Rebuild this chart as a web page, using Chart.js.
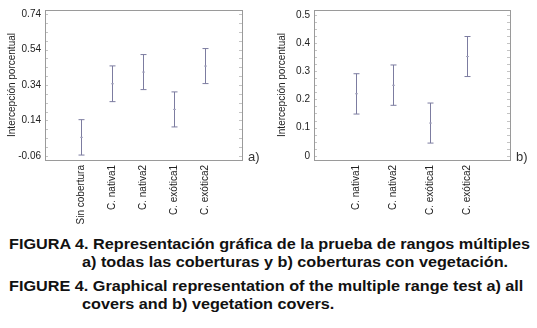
<!DOCTYPE html>
<html><head><meta charset="utf-8">
<script src="https://cdn.jsdelivr.net/npm/chart.js@4.4.0/dist/chart.umd.min.js"></script>
<style>
html,body{margin:0;padding:0;background:#fff}
body{width:537px;height:328px;overflow:hidden;position:relative;font-family:"Liberation Sans",Arial,sans-serif}
canvas{position:absolute;top:0}
#c1{left:0}
#c2{left:270px}
.cap{position:absolute;font-weight:bold;font-size:15px;line-height:15px;color:#111;white-space:nowrap;transform-origin:0 0}
.pl{position:absolute;font-size:13px;line-height:13px;color:#333}
</style></head><body>
<canvas id="c1" width="270" height="230"></canvas>
<canvas id="c2" width="267" height="230"></canvas>
<div class="pl" style="left:248px;top:150px">a)</div>
<div class="pl" style="left:516px;top:150px">b)</div>
<div class="cap" id="cap1" style="left:9px;top:236px">FIGURA 4. Representación gráfica de la prueba de rangos múltiples</div>
<div class="cap" style="left:82px;top:254px">a) todas las coberturas y b) coberturas con vegetación.</div>
<div class="cap" style="left:9px;top:278px">FIGURE 4. Graphical representation of the multiple range test a) all</div>
<div class="cap" style="left:82px;top:296px">covers and b) vegetation covers.</div>
<script>
// ---- data ----
const catsA = ['Sin cobertura','C. nativa1','C. nativa2','C. exótica1','C. exótica2'];
const meanA = [0.044, 0.347, 0.413, 0.202, 0.447];
const lowA  = [-0.056, 0.246, 0.314, 0.103, 0.348];
const highA = [0.144, 0.448, 0.512, 0.301, 0.546];
const yTicksA = [-0.06, 0.14, 0.34, 0.54, 0.74];
const yTickLabelsA = ['-0.06','0.14','0.34','0.54','0.74'];

const catsB = ['C. nativa1','C. nativa2','C. exótica1','C. exótica2'];
const meanB = [0.220, 0.250, 0.116, 0.352];
const lowB  = [0.148, 0.179, 0.045, 0.281];
const highB = [0.291, 0.322, 0.187, 0.423];
const yTicksB = [0, 0.1, 0.2, 0.3, 0.4, 0.5];
const yTickLabelsB = ['0','0.1','0.2','0.3','0.4','0.5'];

const yTitle = 'Intercepción porcentual';
const FONT = '"Liberation Sans", Arial, sans-serif';
const BAR = '#7c7ca0';

// stretch caption lines to the reference width
(function () {
  const w = document.getElementById('cap1').getBoundingClientRect().width;
  const k = 521 / w;
  document.querySelectorAll('.cap').forEach(el => { el.style.transform = 'scaleX(' + k + ')'; });
})();

const framePlugin = {
  id: 'frame',
  afterDraw(chart, args, opts) {
    const {ctx, chartArea: a} = chart;
    const ys = chart.scales.y;
    ctx.save();
    ctx.strokeStyle = '#c4c4c4';
    ctx.lineWidth = 1;
    const minors = [];
    for (let v = opts.minorStart; v <= ys.max + 1e-9; v += opts.minorStep) minors.push(v);
    ctx.beginPath();
    minors.forEach(v => {
      if (v < ys.min) return;
      const y = Math.round(ys.getPixelForValue(v)) + 0.5;
      ctx.moveTo(a.left, y); ctx.lineTo(a.left + 3, y);
      ctx.moveTo(a.right, y); ctx.lineTo(a.right - 3, y);
    });
    ctx.stroke();
    ctx.strokeStyle = '#9a9a9a';
    ctx.strokeRect(Math.round(a.left) + 0.5, Math.round(a.top) + 0.5,
                   Math.round(a.right - a.left), Math.round(a.bottom - a.top));
    ctx.restore();
  }
};

function makeChart(id, cats, mean, low, high, yMin, yMax, yTicks, yLabels, xMin, xMax, padRight, yW, minorStart, minorStep) {
  const idx = cats.map((c, i) => i);
  return new Chart(document.getElementById(id), {
    type: 'bar',
    data: {
      datasets: [
        { type: 'bar', data: idx.map(i => ({x: i, y: [low[i], high[i]]})),
          backgroundColor: BAR, borderWidth: 0, barThickness: 1, inflateAmount: 0, order: 2 },
        { type: 'scatter', data: idx.flatMap(i => [{x: i, y: low[i]}, {x: i, y: high[i]}]),
          pointStyle: 'line', radius: 3, borderColor: BAR, borderWidth: 1, order: 1 },
        { type: 'scatter', data: idx.map(i => ({x: i, y: mean[i]})),
          pointStyle: 'line', radius: 1.5, borderColor: '#a8a8c0', borderWidth: 1, order: 1 }
      ]
    },
    options: {
      responsive: false, animation: false,
      layout: { padding: { top: 7, right: padRight, left: 0, bottom: 0 } },
      plugins: { legend: { display: false }, tooltip: { enabled: false },
                 frame: { minorStart, minorStep } },
      scales: {
        x: { type: 'linear', min: xMin, max: xMax, offset: false,
             afterBuildTicks: s => { s.ticks = idx.map(v => ({value: v})); },
             afterFit: s => { s.height = 70; },
             grid: { display: false, drawTicks: false }, border: { display: false },
             ticks: { autoSkip: false, minRotation: 90, maxRotation: 90, padding: 5,
                      color: '#222', font: { family: FONT, size: 10 },
                      callback: (v, i) => cats[i] } },
        y: { min: yMin, max: yMax,
             afterBuildTicks: s => { s.ticks = yTicks.map(v => ({value: v})); },
             afterFit: s => { s.width = yW; },
             grid: { display: false, drawTicks: false }, border: { display: false },
             ticks: { padding: 4, color: '#222', font: { family: FONT, size: 10 },
                      callback: (v, i) => yLabels[i] },
             title: { display: true, text: yTitle, color: '#222', padding: { top: 6, bottom: 0 },
                      font: { family: FONT, size: 10 } } }
      }
    },
    plugins: [framePlugin]
  });
}

makeChart('c1', catsA, meanA, lowA, highA, -0.084, 0.764, yTicksA, yTickLabelsA, -36.5 / 31, 4 + 36.5 / 31, 28, 45, -0.06, 0.05);
makeChart('c2', catsB, meanB, lowB, highB, -0.015, 0.517, yTicksB, yTickLabelsB, -42.5 / 37, 3 + 42.5 / 37, 27, 44, 0, 0.025);
</script>
</body></html>
